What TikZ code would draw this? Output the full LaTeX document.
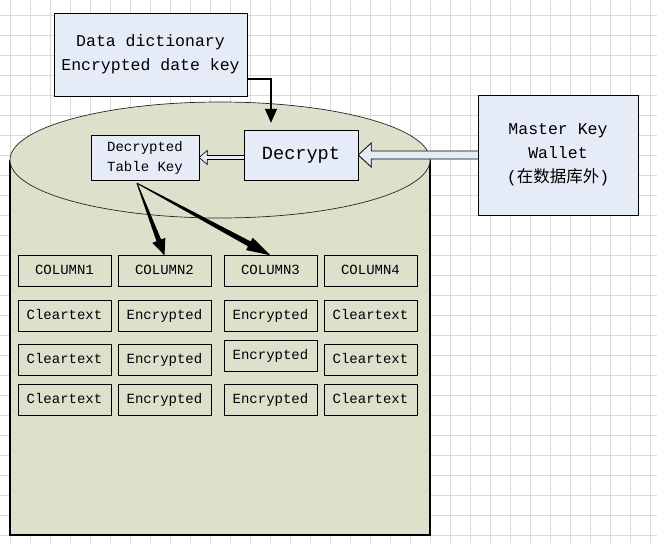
\documentclass[tikz,border=0pt]{standalone}
\usepackage{fontspec}
\setmonofont{Liberation Mono}
\newfontfamily\cjk{Noto Sans CJK SC}
\usetikzlibrary{arrows.meta, calc}

\definecolor{boxblue}{RGB}{230,236,247}
\definecolor{dbgreen}{RGB}{221,225,204}
\definecolor{gridgray}{RGB}{218,218,218}

\begin{document}
\begin{tikzpicture}[x = 1pt, y = -1pt,
    box/.style = {draw, fill = boxblue, inner sep = 0pt, align = center, font = \ttfamily\fontsize{16.5}{24}\selectfont},
    cell/.style = {draw, inner sep = 0pt, minimum width = 93pt, minimum height = 31pt, text height = 10pt, text depth = 3pt, font = \ttfamily\fontsize{14}{16}\selectfont},
    hollow/.style = {draw, fill = boxblue, line width = 0.8pt}]
    \useasboundingbox (0,0) rectangle (657,543);
    \fill[white] (0,0) rectangle (657,543);
    \foreach \x in {10,30,...,650} \draw[gridgray, line width = 0.8pt] (\x,0) -- (\x,543);
    \foreach \y in {15,35,...,535} \draw[gridgray, line width = 0.8pt] (0,\y) -- (657,\y);
    % database cylinder
    \filldraw[fill = dbgreen, line width = 1.2pt] (10,160) -- (10,535) -- (430,535) -- (430,160);
    \filldraw[fill = dbgreen, draw = black!85, line width = 0.7pt] (220,160) ellipse [x radius = 210pt, y radius = 58pt];
    % key boxes
    \node (dd) [box, minimum width = 193pt, minimum height = 83pt] at (150.5,54.5) {Data dictionary\\Encrypted date key};
    \node (dec) [box, minimum width = 114pt, minimum height = 50pt, font = \ttfamily\fontsize{18.6}{22}\selectfont] at (301,155) {Decrypt};
    \node (dtk) [box, minimum width = 108pt, minimum height = 45pt, font = \ttfamily\fontsize{14}{20}\selectfont] at (145,157.5) {Decrypted\\Table Key};
    \node (mk) [box, minimum width = 160pt, minimum height = 120pt] at (558,155) {Master Key\\Wallet\\({\cjk 在数据库外})};
    % table
    \node (h1) [cell] at (64.5,271) {COLUMN1};
    \node (h2) [cell] at (164.5,271) {COLUMN2};
    \node (h3) [cell] at (270.5,271) {COLUMN3};
    \node (h4) [cell] at (370.5,271) {COLUMN4};
    \node (r1c1) [cell] at (64.5,316) {Cleartext};
    \node (r1c2) [cell] at (164.5,316) {Encrypted};
    \node (r1c3) [cell] at (270.5,316) {Encrypted};
    \node (r1c4) [cell] at (370.5,316) {Cleartext};
    \node (r2c1) [cell] at (64.5,360) {Cleartext};
    \node (r2c2) [cell] at (164.5,360) {Encrypted};
    \node (r2c3) [cell] at (270.5,355.5) {Encrypted};
    \node (r2c4) [cell] at (370.5,360) {Cleartext};
    \node (r3c1) [cell] at (64.5,400) {Cleartext};
    \node (r3c2) [cell] at (164.5,400) {Encrypted};
    \node (r3c3) [cell] at (270.5,400) {Encrypted};
    \node (r3c4) [cell] at (370.5,400) {Cleartext};
    % arrows
    \draw[-{Triangle[length = 14pt, width = 12pt]}, line width = 1.3pt, shorten > = 7pt] ([yshift = -24.5pt]dd.east) -| ([xshift = -30pt]dec.north);
    \draw[hollow] ([yshift = 4pt]mk.west) -- ([xshift = 13pt, yshift = 4pt]dec.east) -- ([xshift = 13pt, yshift = 12pt]dec.east)
        -- (dec.east) -- ([xshift = 13pt, yshift = -12pt]dec.east) -- ([xshift = 13pt, yshift = -4pt]dec.east) -- ([yshift = -4pt]mk.west);
    \draw[hollow, line width = 0.6pt] (dtk.east -| dec.west) ++(0,-2) -- ([xshift = 8pt, yshift = 2pt]dtk.east) -- ([xshift = 8pt, yshift = 7pt]dtk.east)
        -- (dtk.east) -- ([xshift = 8pt, yshift = -7pt]dtk.east) -- ([xshift = 8pt, yshift = -2pt]dtk.east) -- ([yshift = -2pt]dtk.east -| dec.west);
    \coordinate (ks) at ([xshift = -8pt, yshift = -3pt]dtk.south);
    \coordinate (b2) at ($(h2.north)!16pt!(ks)$);
    \coordinate (b3) at ($(h3.north)!24pt!(ks)$);
    \fill ($(ks)!0.5pt!90:(b2)$) -- ($(b2)!2.5pt!-90:(ks)$) -- ($(b2)!7pt!-90:(ks)$) -- (h2.north)
        -- ($(b2)!7pt!90:(ks)$) -- ($(b2)!2.5pt!90:(ks)$) -- ($(ks)!0.5pt!-90:(b2)$) -- cycle;
    \fill ($(ks)!0.5pt!90:(b3)$) -- ($(b3)!2.8pt!-90:(ks)$) -- ($(b3)!7pt!-90:(ks)$) -- (h3.north)
        -- ($(b3)!7pt!90:(ks)$) -- ($(b3)!2.8pt!90:(ks)$) -- ($(ks)!0.5pt!-90:(b3)$) -- cycle;
\end{tikzpicture}
\end{document}
